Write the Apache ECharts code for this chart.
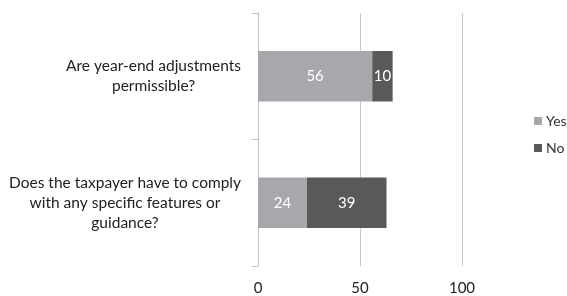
<!DOCTYPE html>
<html>
<head>
<meta charset="utf-8">
<script src="https://cdn.jsdelivr.net/npm/echarts@6/dist/echarts.min.js"></script>
<style>
  html, body { margin: 0; padding: 0; background: #fff; }
  #chart { width: 567px; height: 296px; }
</style>
</head>
<body>
<div id="chart"></div>
<script>
// data
const categories = [
  "Are year-end adjustments\npermissible?",
  "Does the taxpayer have to comply\nwith any specific features or\nguidance?"
];
const yesValues = [56, 24];
const noValues = [10, 39];
const xTicks = [0, 50, 100];

const chart = echarts.init(document.getElementById("chart"));
const font = "Lato, 'Open Sans', sans-serif";

chart.setOption({
  animation: false,
  textStyle: { fontFamily: font },
  grid: { left: 258, right: 105, top: 13, bottom: 29, containLabel: false },
  legend: {
    data: ["Yes", "No"],
    orient: "vertical",
    left: 529,
    top: 109,
    itemWidth: 8,
    itemHeight: 8,
    itemGap: 13,
    icon: "rect",
    textStyle: { fontSize: 14, color: "#333", fontFamily: font, padding: [0, 0, 0, -1] }
  },
  xAxis: {
    type: "value",
    min: xTicks[0],
    max: xTicks[xTicks.length - 1],
    interval: 50,
    axisLine: { show: false },
    axisTick: { show: false },
    splitLine: { lineStyle: { color: "#c8c8c8" } },
    axisLabel: { fontSize: 15, color: "#222", margin: 15, fontFamily: font }
  },
  yAxis: {
    type: "category",
    inverse: true,
    data: categories,
    axisLine: { show: true, lineStyle: { color: "#c0c0c0" } },
    axisTick: { show: true, length: 6, lineStyle: { color: "#c0c0c0" } },
    axisLabel: {
      margin: 17,
      align: "right",
      // centre each line inside the label block
      formatter: v => v.split("\n").map(s => "{c|" + s + "}").join("\n"),
      rich: {
        c: { align: "center", fontSize: 15.5, lineHeight: 20, color: "#222", fontFamily: font }
      }
    }
  },
  series: [
    {
      name: "Yes",
      type: "bar",
      stack: "total",
      barWidth: "40%",
      data: yesValues,
      itemStyle: { color: "#a6a8ab" },
      label: { show: true, color: "#fff", fontSize: 15, fontFamily: font }
    },
    {
      name: "No",
      type: "bar",
      stack: "total",
      barWidth: "40%",
      data: noValues,
      itemStyle: { color: "#595959" },
      label: { show: true, color: "#fff", fontSize: 15, fontFamily: font }
    }
  ]
});
</script>
</body>
</html>
